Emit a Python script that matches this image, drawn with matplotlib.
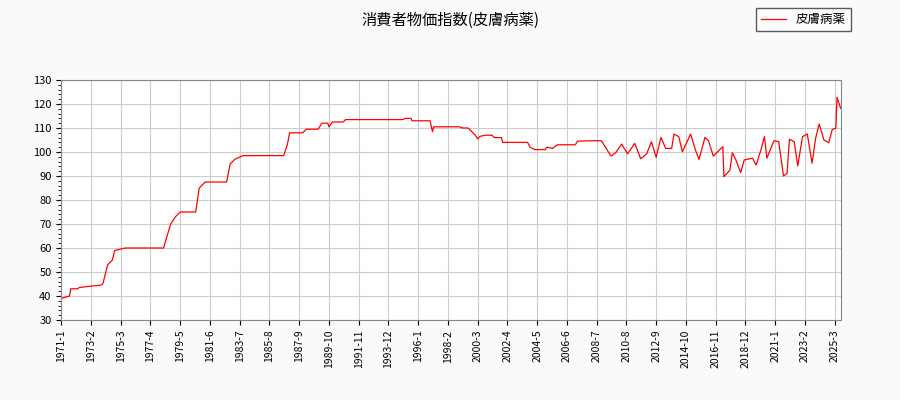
import matplotlib.pyplot as plt
from matplotlib.ticker import MultipleLocator

plt.rcParams['font.family'] = ['Noto Sans CJK JP', 'DejaVu Sans']

# months since 1971-1, value
months = [0, 7, 8, 14, 15, 23, 33, 35, 39, 43, 45, 54, 86, 89, 92, 96, 100, 113, 116, 121, 139,
          142, 146, 153, 187, 190, 192, 203, 206, 216, 219, 224, 225, 228, 237, 239, 287, 289, 294,
          295, 310, 312, 313, 335, 337, 342, 348, 350, 352, 356, 362, 364, 370, 371, 392, 394, 398,
          407, 408, 413, 417, 432, 434, 446,
          454, 462, 466, 471, 476, 482, 487, 492, 496, 500, 504, 508, 513, 515, 519, 522, 529, 533,
          536, 541, 544, 548, 556, 557, 562, 564, 567, 571, 574, 581, 584, 588, 591, 593, 599, 603,
          607, 610, 612, 616, 619, 623, 627, 631, 634, 637, 641, 645, 648, 651, 652, 655]
values = [39, 40, 43, 43, 43.5, 44, 44.5, 45, 53, 55, 59, 60, 60, 65, 70, 73, 75, 75, 85, 87.5, 87.5,
          95, 97, 98.5, 98.5, 103, 108, 108, 109.5, 109.5, 112, 112, 110.5, 112.5, 112.5, 113.5, 113.5, 114, 114,
          113, 113, 108.5, 110.5, 110.5, 110, 110, 107, 105.5, 106.5, 107, 107, 106, 106, 104, 104, 102, 101,
          101, 102, 101.5, 103, 103, 104.5, 104.7,
          104.7, 98.3, 99.7, 103.3, 99.2, 103.6, 97.2, 99.2, 104.3, 97.8, 106.1, 101.5, 101.5, 107.5, 106.4, 100.1, 107.5, 100.8,
          96.9, 106.1, 104.7, 98.3, 102.2, 89.7, 92.5, 99.7, 96.7, 91.4, 96.7, 97.4, 94.6, 100.8, 106.4, 97.4, 104.7, 104.3,
          90.0, 91.1, 105.3, 104.3, 94.2, 106.4, 107.5, 95.3, 105.7, 111.7, 105.0, 103.9, 109.4, 109.9, 122.8, 118.2]

tick_pos = list(range(0, 651, 25))
tick_labels = [f"{1971 + p // 12}-{p % 12 + 1}" for p in tick_pos]

fig = plt.figure(figsize=(9, 4), dpi=100, facecolor='#fafafa')
ax = fig.add_axes([0.068, 0.2, 0.866, 0.6])
ax.plot(months, values, color='red', linewidth=0.9, label='皮膚病薬')
ax.set_xlim(0, 655)
ax.set_ylim(30, 130)
ax.set_yticks(range(30, 131, 10))
ax.yaxis.set_minor_locator(MultipleLocator(2))
ax.set_xticks(tick_pos)
ax.set_xticklabels(tick_labels, rotation=90, fontsize=7.5)
ax.tick_params(axis='y', labelsize=8)
for s in ax.spines.values():
    s.set_color('#888888')
ax.grid(True, color='#cccccc')
fig.suptitle('消費者物価指数(皮膚病薬)', y=0.97, fontsize=11)
fig.legend(loc='upper right', bbox_to_anchor=(0.952, 0.995), fontsize=9, fancybox=False, edgecolor='#333333')
fig.savefig('out.png', facecolor=fig.get_facecolor())
